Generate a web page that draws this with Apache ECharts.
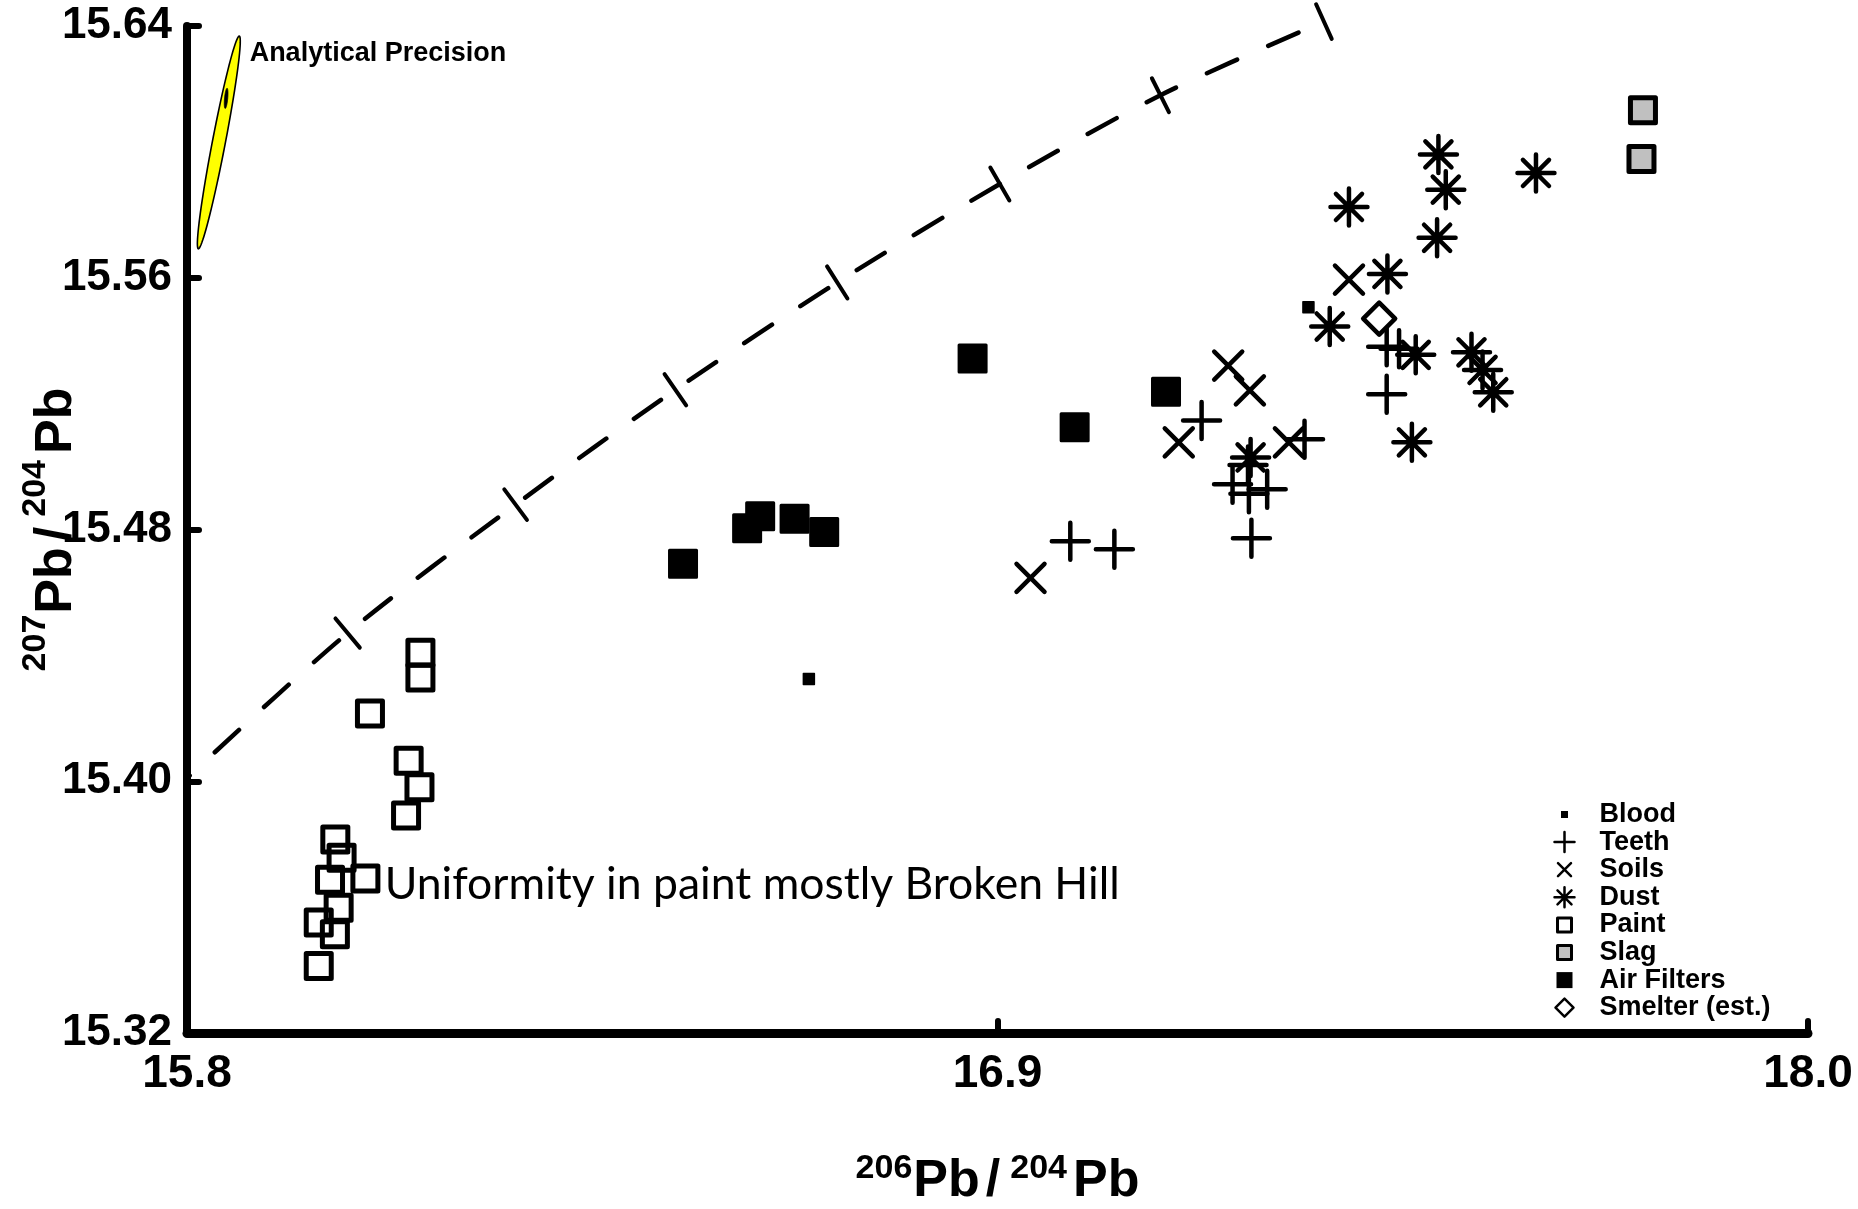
<!DOCTYPE html>
<html><head><meta charset="utf-8">
<script src="https://cdn.jsdelivr.net/npm/echarts@6/dist/echarts.min.js"></script>
<style>html,body{margin:0;padding:0;background:#fff}#c{width:1858px;height:1209px}</style>
</head><body><div id="c"></div>
<script>
// ---- data (206Pb/204Pb, 207Pb/204Pb) ----
const xTicks = [15.8, 16.9, 18.0];
const yTicks = [15.32, 15.40, 15.48, 15.56, 15.64];

const blood = [[16.644, 15.4325], [17.322, 15.5506]];
const teeth = [[17.177, 15.5146], [17.4282, 15.5381], [17.445, 15.5374], [17.4282, 15.523],
  [17.2446, 15.4772], [17.219, 15.4944], [17.266, 15.4928], [17.240, 15.5005], [17.2412, 15.4914],
  [16.9988, 15.4763], [17.0586, 15.4737], [17.3167, 15.5087]];
const soils = [[17.377, 15.5594], [17.2131, 15.5321], [17.2425, 15.5242], [17.146, 15.5077],
  [17.2955, 15.5077], [16.9448, 15.4646]];
const dust = [[17.4984, 15.5992], [17.5084, 15.588], [17.6308, 15.5933], [17.4966, 15.5727],
  [17.4292, 15.5612], [17.377, 15.5825], [17.3509, 15.5445], [17.4676, 15.5355], [17.5433, 15.5363],
  [17.5583, 15.5307], [17.5728, 15.5236], [17.4624, 15.5077], [17.2435, 15.5029]];
const paint = [[16.1168, 15.4408], [16.1168, 15.4330], [16.0483, 15.4215], [16.1008, 15.4065],
  [16.1155, 15.3981], [16.0973, 15.3891], [16.0013, 15.3815], [16.0098, 15.3757], [15.9941, 15.3687],
  [16.0421, 15.3691], [16.0058, 15.3598], [15.9788, 15.3551], [16.0007, 15.3514], [15.9788, 15.3413]];
const slag = [[17.776, 15.6132], [17.774, 15.5977]];
const airFilters = [[16.4732, 15.4691], [16.5602, 15.4804], [16.5779, 15.4842], [16.6246, 15.4834],
  [16.6648, 15.4792], [16.8662, 15.5343], [17.0047, 15.5125], [17.1287, 15.5238]];
const smelter = [[17.418, 15.547]];

// model growth curve, with tick marks at its nodes
const growthCurve = [[15.8, 15.401], [16.018, 15.4471], [16.246, 15.4879], [16.4628, 15.5244],
  [16.6825, 15.5585], [16.9032, 15.5898], [17.1211, 15.618], [17.343, 15.6414]];
const growthTickIdx = [1, 2, 3, 4, 5, 6, 7];

// analytical precision ellipse (major axis ends) and inner mark
const precisionTop = [15.871, 15.6368];
const precisionBottom = [15.8154, 15.5692];
const innerTop = [15.8544, 15.6202];
const innerBottom = [15.8518, 15.6138];
const precisionLabelAt = [15.885, 15.6314];
const paintNoteAt = [16.0683, 15.3671];

const F = 'Liberation Sans, Arial, sans-serif';
const PLUS = 'path://M0,18L36,18M18,0L18,36';
const CROSS = 'path://M0,0L28,28M0,28L28,0';
const STAR = 'path://M18,0L18,36M0,18L36,18M5.3,5.3L30.7,30.7M5.3,30.7L30.7,5.3';

function ellipsePts(t, b, half) {
  const cx = (t[0] + b[0]) / 2, cy = (t[1] + b[1]) / 2;
  const ux = (t[0] - b[0]) / 2, uy = (t[1] - b[1]) / 2;
  const L = Math.hypot(ux, uy);
  const vx = -uy / L * half, vy = ux / L * half;
  const pts = [];
  for (let k = 0; k < 90; k++) {
    const a = k / 90 * Math.PI * 2;
    pts.push([cx + ux * Math.cos(a) + vx * Math.sin(a), cy + uy * Math.cos(a) + vy * Math.sin(a)]);
  }
  return pts;
}

function titleRich(lineH) {
  return {
    sup: { fontFamily: F, fontWeight: 'bold', fontSize: 34, lineHeight: 24, verticalAlign: 'top', color: '#000', padding: [0, 1, 0, 0] },
    sup2: { fontFamily: F, fontWeight: 'bold', fontSize: 34, lineHeight: 24, verticalAlign: 'top', color: '#000', padding: [0, 6, 0, 0] },
    base: { fontFamily: F, fontWeight: 'bold', fontSize: 52, lineHeight: lineH, verticalAlign: 'bottom', color: '#000' },
    sl: { fontFamily: F, fontWeight: 'bold', fontSize: 52, lineHeight: lineH, verticalAlign: 'bottom', color: '#000', padding: [0, 10, 0, 6] }
  };
}

const black = { color: '#000', opacity: 1 };
const chart = echarts.init(document.getElementById('c'), null, { renderer: 'canvas' });
chart.setOption({
  animation: false,
  backgroundColor: '#fff',
  grid: { left: 187, right: 50, top: 26, bottom: 176, containLabel: false, outerBoundsMode: 'none' },
  xAxis: {
    type: 'value', min: xTicks[0], max: xTicks[xTicks.length - 1], interval: xTicks[1] - xTicks[0],
    name: '{sup|206}{base|Pb}{sl|/}{sup2|204}{base|Pb}', nameLocation: 'middle', nameGap: 119,
    nameMoveOverlap: false,
    nameTextStyle: { rich: titleRich(56) },
    axisLine: { onZero: false, lineStyle: { color: '#000', width: 9, cap: 'round' } },
    axisTick: { inside: true, length: 12, lineStyle: { color: '#000', width: 6, cap: 'round' } },
    axisLabel: { margin: 18, fontFamily: F, fontWeight: 'bold', fontSize: 46, color: '#000',
      formatter: v => v.toFixed(1) },
    splitLine: { show: false }
  },
  yAxis: {
    type: 'value', min: yTicks[0], max: yTicks[yTicks.length - 1], interval: yTicks[1] - yTicks[0],
    name: '{sup|207}{base|Pb}{sl|/}{sup2|204}{base|Pb}', nameLocation: 'middle', nameRotate: 90, nameGap: 104,
    nameMoveOverlap: false,
    nameTextStyle: { rich: titleRich(64) },
    axisLine: { onZero: false, lineStyle: { color: '#000', width: 8, cap: 'round' } },
    axisTick: { inside: true, length: 12, lineStyle: { color: '#000', width: 6, cap: 'round' } },
    axisLabel: { margin: 15, fontFamily: F, fontWeight: 'bold', fontSize: 44, color: '#000',
      formatter: v => v.toFixed(2) },
    splitLine: { show: false }
  },
  legend: {
    orient: 'vertical', left: 1551, top: 801, padding: 0, itemWidth: 60, itemHeight: 22, itemGap: 0.6,
    selectedMode: false,
    textStyle: { fontFamily: F, fontWeight: 'bold', fontSize: 27, color: '#000', lineHeight: 27 },
    data: [
      { name: 'Blood', icon: 'path://M0,0M22,22M7.5,7.5L14.5,7.5L14.5,14.5L7.5,14.5Z', itemStyle: { color: '#000', borderWidth: 0, opacity: 1 } },
      { name: 'Teeth', icon: 'path://M0,0M22,22M1,11L21,11M11,1L11,21', itemStyle: { color: 'none', borderColor: '#000', borderWidth: 2.5, opacity: 1 } },
      { name: 'Soils', icon: 'path://M0,0M22,22M4.5,4.5L17.5,17.5M4.5,17.5L17.5,4.5', itemStyle: { color: 'none', borderColor: '#000', borderWidth: 2.5, opacity: 1 } },
      { name: 'Dust', icon: 'path://M0,0M22,22M11,1L11,21M1,11L21,11M4,4L18,18M4,18L18,4', itemStyle: { color: 'none', borderColor: '#000', borderWidth: 2.5, opacity: 1 } },
      { name: 'Paint', icon: 'path://M0,0M22,22M4,4L18,4L18,18L4,18Z', itemStyle: { color: '#fff', borderColor: '#000', borderWidth: 3, opacity: 1 } },
      { name: 'Slag', icon: 'path://M0,0M22,22M4,4L18,4L18,18L4,18Z', itemStyle: { color: '#c0c0c0', borderColor: '#000', borderWidth: 3, opacity: 1 } },
      { name: 'Air Filters', icon: 'path://M0,0M22,22M3,3L19,3L19,19L3,19Z', itemStyle: { color: '#000', borderWidth: 0, opacity: 1 } },
      { name: 'Smelter (est.)', icon: 'path://M0,0M22,22M11,2L20,11L11,20L2,11Z', itemStyle: { color: '#fff', borderColor: '#000', borderWidth: 2.5, opacity: 1 } }
    ]
  },
  series: [
    {
      type: 'line', data: growthCurve, smooth: 0.3, showSymbol: false, clip: false, silent: true,
      lineStyle: { color: '#000', width: 4.5, type: [33, 34], dashOffset: 29, cap: 'round', opacity: 1 }, z: 1
    },
    {
      type: 'custom', data: growthTickIdx.map(i => growthCurve[i]), clip: false, silent: true, z: 1,
      renderItem: function (params, api) {
        const i = growthTickIdx[params.dataIndex];
        const p = api.coord(growthCurve[i]);
        const a = api.coord(growthCurve[i - 1]);
        const b = api.coord(growthCurve[Math.min(i + 1, growthCurve.length - 1)]);
        let tx = b[0] - a[0], ty = b[1] - a[1];
        const L = Math.hypot(tx, ty); tx /= L; ty /= L;
        const nx = -ty, ny = tx, h = 19;
        return { type: 'line', shape: { x1: p[0] - nx * h, y1: p[1] - ny * h, x2: p[0] + nx * h, y2: p[1] + ny * h },
          style: { stroke: '#000', lineWidth: 4, lineCap: 'round', opacity: 1 } };
      }
    },
    {
      type: 'custom', data: [precisionTop], clip: false, silent: true, z: 2,
      renderItem: function (params, api) {
        const outer = ellipsePts(api.coord(precisionTop), api.coord(precisionBottom), 6.5);
        const inner = ellipsePts(api.coord(innerTop), api.coord(innerBottom), 1.6);
        return { type: 'group', children: [
          { type: 'polygon', shape: { points: outer }, style: { fill: '#ffff00', stroke: '#000', lineWidth: 1.6, opacity: 1 } },
          { type: 'polygon', shape: { points: inner }, style: { fill: '#000', stroke: '#000', lineWidth: 0.8, opacity: 1 } }
        ] };
      }
    },
    {
      type: 'scatter', data: [precisionLabelAt], symbolSize: 0, silent: true, z: 3, itemStyle: black,
      label: { show: true, position: 'right', distance: 0, formatter: 'Analytical Precision',
        fontFamily: F, fontWeight: 'bold', fontSize: 27, color: '#000', opacity: 1 }
    },
    {
      type: 'scatter', data: [paintNoteAt], symbolSize: 0, silent: true, z: 3, itemStyle: black,
      label: { show: true, position: 'right', distance: 0, formatter: 'Uniformity in paint mostly Broken Hill',
        fontFamily: 'Lato, Open Sans, sans-serif', fontSize: 44.5, color: '#000', opacity: 1 }
    },
    { name: 'Paint', type: 'scatter', data: paint, symbol: 'rect', symbolSize: 25,
      itemStyle: { color: 'rgba(0,0,0,0)', borderColor: '#000', borderWidth: 5, borderJoin: 'round', opacity: 1 }, z: 4 },
    { name: 'Air Filters', type: 'scatter', data: airFilters, symbol: 'rect', symbolSize: 27,
      itemStyle: { color: '#000', borderColor: '#000', borderWidth: 3, borderJoin: 'round', opacity: 1 }, z: 4 },
    { name: 'Slag', type: 'scatter', data: slag, symbol: 'rect', symbolSize: 25,
      itemStyle: { color: '#c0c0c0', borderColor: '#000', borderWidth: 5, borderJoin: 'round', opacity: 1 }, z: 4 },
    { name: 'Blood', type: 'scatter', data: blood, symbol: 'rect', symbolSize: 11,
      itemStyle: { color: '#000', borderColor: '#000', borderWidth: 1.5, borderJoin: 'round', opacity: 1 }, z: 4 },
    { name: 'Soils', type: 'scatter', data: soils, symbol: CROSS, symbolSize: 28,
      itemStyle: { color: 'rgba(0,0,0,0)', borderColor: '#000', borderWidth: 4.5, borderCap: 'round', opacity: 1 }, z: 4 },
    { name: 'Teeth', type: 'scatter', data: teeth, symbol: PLUS, symbolSize: 37,
      itemStyle: { color: 'rgba(0,0,0,0)', borderColor: '#000', borderWidth: 4.5, borderCap: 'round', opacity: 1 }, z: 4 },
    { name: 'Dust', type: 'scatter', data: dust, symbol: STAR, symbolSize: 37,
      itemStyle: { color: 'rgba(0,0,0,0)', borderColor: '#000', borderWidth: 4.5, borderCap: 'round', opacity: 1 }, z: 4 },
    { name: 'Smelter (est.)', type: 'scatter', data: smelter, symbol: 'diamond', symbolSize: 32,
      itemStyle: { color: '#fff', borderColor: '#000', borderWidth: 4.5, borderJoin: 'round', opacity: 1 }, z: 5 }
  ]
});
</script>
</body></html>
